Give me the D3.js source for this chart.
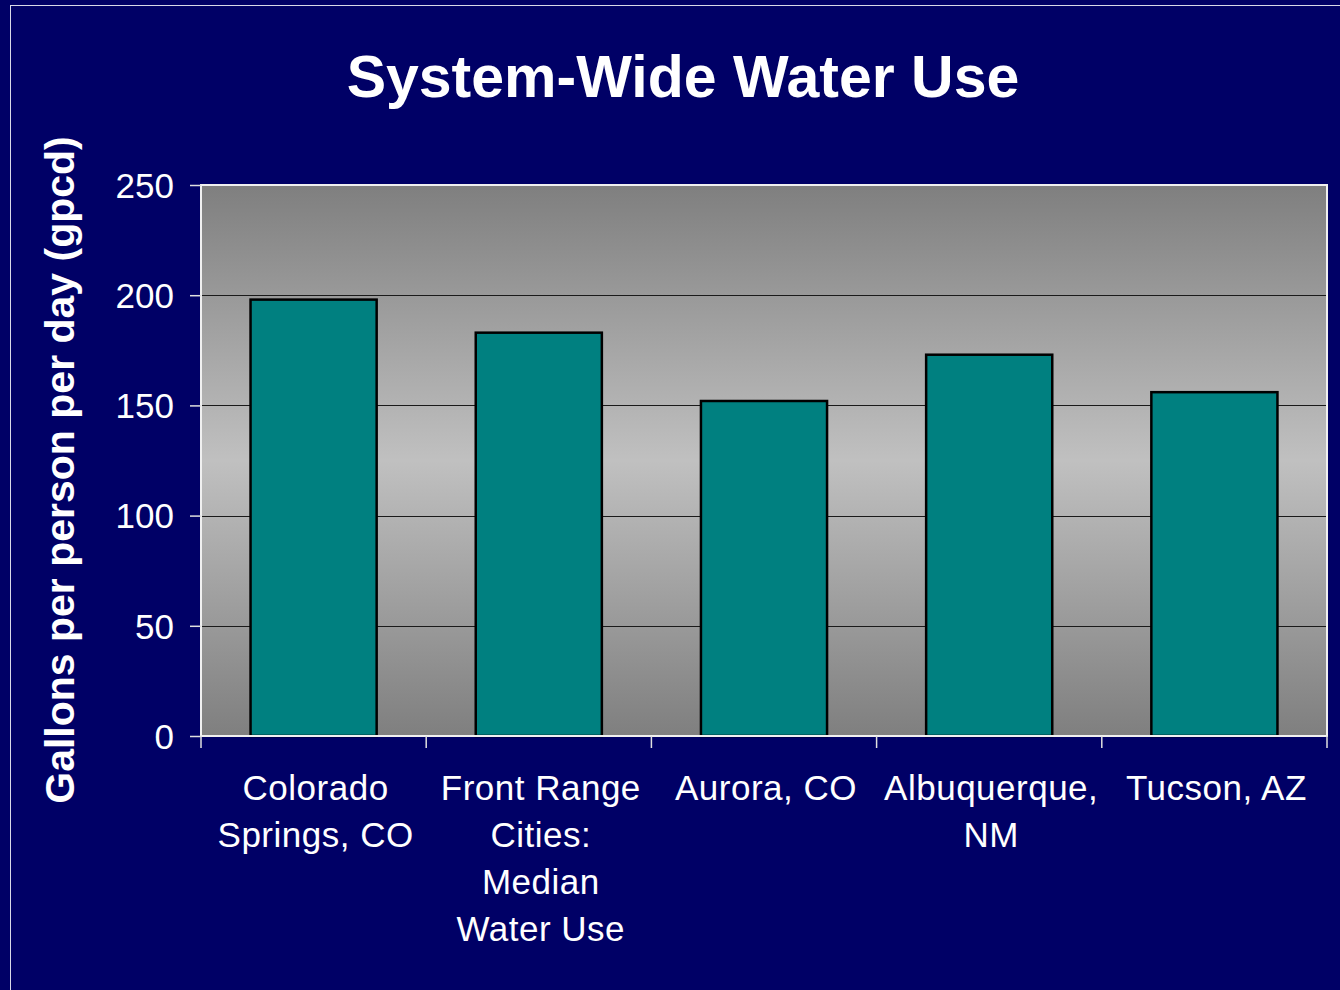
<!DOCTYPE html>
<html>
<head>
<meta charset="utf-8">
<script src="https://cdn.jsdelivr.net/npm/d3@7"></script>
<style>
  html, body { margin: 0; padding: 0; background: #000066; }
  svg { display: block; }
  text { font-family: "Liberation Sans", Arial, sans-serif; fill: #ffffff; }
</style>
</head>
<body>
<script>
const categories = [
  ["Colorado", "Springs, CO"],
  ["Front Range", "Cities:", "Median", "Water Use"],
  ["Aurora, CO"],
  ["Albuquerque,", "NM"],
  ["Tucson, AZ"]
];
const values = [198, 183, 152, 173, 156];
const yTicks = [0, 50, 100, 150, 200, 250];
const titleText = "System-Wide Water Use";
const yTitleText = "Gallons per person per day (gpcd)";

const W = 1340, H = 990;
const plot = { left: 201, top: 185, right: 1327, bottom: 736 };

const svg = d3.select("body").append("svg").attr("width", W).attr("height", H);

svg.append("rect").attr("width", W).attr("height", H).attr("fill", "#000066");
// outer frame
svg.append("rect").attr("x", 10.5).attr("y", 5.5).attr("width", 1400).attr("height", 1100)
  .attr("fill", "none").attr("stroke", "#d8d8e8").attr("stroke-width", 1);

const defs = svg.append("defs");
const grad = defs.append("linearGradient").attr("id", "bg").attr("x1", 0).attr("y1", 0).attr("x2", 0).attr("y2", 1);
grad.append("stop").attr("offset", "0%").attr("stop-color", "#7f7f7f");
grad.append("stop").attr("offset", "50%").attr("stop-color", "#c0c0c0");
grad.append("stop").attr("offset", "100%").attr("stop-color", "#7f7f7f");

const x = d3.scaleBand().domain(d3.range(categories.length))
  .range([plot.left, plot.right]).paddingInner(0.44).paddingOuter(0.22);
const y = d3.scaleLinear().domain([0, 250]).range([plot.bottom, plot.top]);

// plot background
svg.append("rect").attr("x", plot.left).attr("y", plot.top)
  .attr("width", plot.right - plot.left).attr("height", plot.bottom - plot.top)
  .attr("fill", "url(#bg)");

// gridlines
svg.append("g").selectAll("line").data(yTicks.filter(t => t > 0 && t < 250)).join("line")
  .attr("x1", plot.left).attr("x2", plot.right)
  .attr("y1", d => Math.round(y(d)) + 0.5).attr("y2", d => Math.round(y(d)) + 0.5)
  .attr("stroke", "#1a1a1a").attr("stroke-width", 1);

// bars
svg.append("g").selectAll("rect").data(values).join("rect")
  .attr("x", (d, i) => x(i)).attr("width", x.bandwidth())
  .attr("y", d => y(d)).attr("height", d => y(0) - y(d))
  .attr("fill", "#008080").attr("stroke", "#000000").attr("stroke-width", 2.5);

// plot border
svg.append("rect").attr("x", plot.left).attr("y", plot.top)
  .attr("width", plot.right - plot.left).attr("height", plot.bottom - plot.top)
  .attr("fill", "none").attr("stroke", "#f0f0f0").attr("stroke-width", 2);

// y axis
const yAxis = d3.axisLeft(y).tickValues(yTicks).tickSize(11).tickPadding(16);
const gy = svg.append("g").attr("transform", `translate(${plot.left},0)`).call(yAxis);
gy.select(".domain").remove();
gy.selectAll(".tick line").attr("stroke", "#e0e0e0").attr("stroke-width", 1.5);
gy.selectAll(".tick text").attr("fill", "#ffffff").style("font-size", "35px")
  .style("font-family", "'Liberation Sans', Arial, sans-serif").attr("dy", "0.35em");

// x axis ticks at category boundaries
const boundaries = d3.range(categories.length + 1).map(i => plot.left + i * x.step());
svg.append("g").selectAll("line").data(boundaries).join("line")
  .attr("x1", d => d).attr("x2", d => d)
  .attr("y1", plot.bottom).attr("y2", plot.bottom + 12)
  .attr("stroke", "#e0e0e0").attr("stroke-width", 1.5);

// x labels
const lab = svg.append("g").selectAll("text").data(categories).join("text")
  .attr("text-anchor", "middle").style("font-size", "35px").style("letter-spacing", "0.5px")
  .attr("transform", (d, i) => `translate(${x(i) + x.bandwidth() / 2 + 2},800)`);
lab.selectAll("tspan").data(d => d).join("tspan")
  .attr("x", 0).attr("dy", (d, i) => i === 0 ? 0 : 47).text(d => d);

// title
svg.append("text").attr("x", 683).attr("y", 97).attr("text-anchor", "middle")
  .style("font-size", "59px").style("font-weight", "bold").text(titleText);

// y title
svg.append("text").attr("transform", "translate(74,470) rotate(-90)")
  .attr("text-anchor", "middle").style("font-size", "41px").style("font-weight", "bold")
  .text(yTitleText);
</script>
</body>
</html>
